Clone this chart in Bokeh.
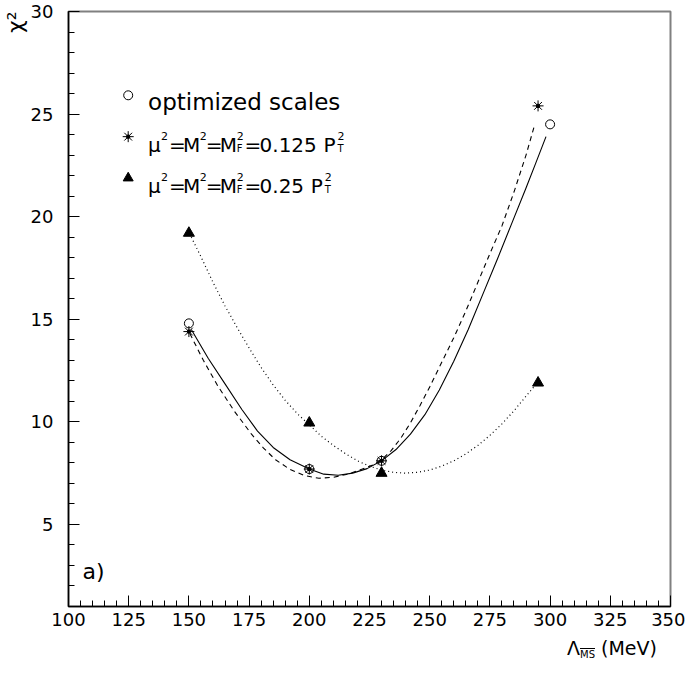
import math
from bokeh.plotting import figure
from bokeh.models import SingleIntervalTicker, Label, Title, Div
from bokeh.layouts import column
from bokeh.embed import file_html
from bokeh.resources import INLINE

# ---- data ----
lam_opt = [150, 200, 230, 300]
chi_opt = [14.8, 7.7, 8.1, 24.5]

lam_125 = [150, 200, 230, 295]
chi_125 = [14.4, 7.7, 8.1, 25.4]

lam_25 = [150, 200, 230, 295]
chi_25 = [19.2, 9.95, 7.5, 11.9]

# fitted curves
fit_opt_x = [151, 158, 165, 172, 178.5, 185, 192, 200, 206, 212, 218, 224, 230, 236, 242, 248,
             254, 260, 266, 272, 278, 284, 290, 294, 298.3]
fit_opt_y = [14.5, 13.1, 11.85, 10.6, 9.55, 8.75, 8.15, 7.7, 7.45, 7.4, 7.5, 7.72, 8.1, 8.65, 9.4, 10.35,
             11.55, 12.95, 14.5, 16.2, 17.9, 19.65, 21.4, 22.6, 23.9]

fit_125_x = [150.4, 156, 162, 169, 176, 181, 186, 192, 198, 204, 210, 216, 222, 226, 230, 234, 238,
             242, 246, 250, 255, 260, 265, 270, 275, 280, 285, 290, 293.4]
fit_125_y = [14.3, 13.0, 11.75, 10.5, 9.4, 8.72, 8.15, 7.68, 7.38, 7.25, 7.3, 7.45, 7.7, 7.88, 8.15, 8.6, 9.2,
             9.95, 10.8, 11.7, 12.9, 14.1, 15.4, 16.8, 18.2, 19.55, 21.2, 23.0, 24.4]

fit_25_x = [151, 155, 160, 165, 170, 175, 180, 185, 190, 195, 200, 205, 210, 215, 220, 225, 230, 235,
            240, 245, 250, 255, 260, 265, 270, 275, 280, 285, 290, 295]
fit_25_y = [19.0, 18.05, 16.8, 15.65, 14.6, 13.6, 12.65, 11.8, 11.05, 10.4, 9.85, 9.3, 8.85, 8.45, 8.1, 7.84,
            7.65, 7.54, 7.5, 7.54, 7.65, 7.84, 8.1, 8.44, 8.85, 9.34, 9.9, 10.54, 11.25, 11.95]

legend_values = ["0.125", "0.25"]

x_start, x_end = 100, 350
y_start, y_end = 1, 30

FONT = "DejaVu Sans"

p = figure(width=685, height=637, x_range=(x_start, x_end), y_range=(y_start, y_end),
           output_backend="svg", toolbar_location=None,
           min_border_left=65, min_border_right=15, min_border_top=11, min_border_bottom=31)

p.xgrid.visible = False
p.ygrid.visible = False
p.outline_line_color = "#808080"
p.outline_line_width = 2
p.background_fill_color = "white"
p.border_fill_color = "white"

p.xaxis.ticker = SingleIntervalTicker(interval=25, num_minor_ticks=5)
p.yaxis.ticker = SingleIntervalTicker(interval=5, num_minor_ticks=5)
for ax in (p.xaxis[0], p.yaxis[0]):
    ax.axis_line_color = "black"
    ax.axis_line_width = 1.5
    ax.major_tick_in = 11
    ax.major_tick_out = 0
    ax.minor_tick_in = 6
    ax.minor_tick_out = 0
    ax.major_tick_line_color = "black"
    ax.minor_tick_line_color = "black"
    ax.major_label_text_font = FONT
    ax.major_label_text_font_size = "18px"
    ax.major_label_text_color = "black"
p.xaxis.major_label_standoff = 6
p.yaxis.major_label_standoff = 15

# y-axis title at the top of the left side
p.add_layout(Title(text="\u03c7\u00b2", align="right", text_font=FONT, text_font_size="22px",
                   text_font_style="normal", text_color="black", standoff=0), "left")

# curves
p.line(fit_opt_x, fit_opt_y, line_color="black", line_width=1.1)
p.line(fit_125_x, fit_125_y, line_color="black", line_width=1.1, line_dash="5 4")
p.line(fit_25_x, fit_25_y, line_color="black", line_width=1.2, line_dash="1 3")

# markers
p.scatter(lam_opt, chi_opt, marker="circle", size=9, fill_color=None, line_color="black", line_width=1)
p.scatter(lam_125, chi_125, marker="asterisk", size=11, line_color="black", line_width=1)
p.scatter(lam_125, chi_125, marker="circle", size=3.5, fill_color="black", line_color="black")
p.scatter(lam_25, chi_25, marker="triangle", size=11, fill_color="black", line_color="black")

# ---- annotations: reference page pixels -> data coordinates ----
def dx(px):
    return x_start + (px - 73) / 2.42

def dy(py):
    return y_start + (614 - py) / 20.83

def put(text, px, py, size, align="left", baseline="alphabetic"):
    p.add_layout(Label(x=dx(px), y=dy(py), text=text, text_font=FONT,
                       text_font_size=f"{size}px", text_color="black",
                       text_align=align, text_baseline=baseline))

# legend markers
p.scatter([dx(133)], [dy(95)], marker="circle", size=9, fill_color=None, line_color="black")
p.scatter([dx(133)], [dy(137)], marker="asterisk", size=11, line_color="black")
p.scatter([dx(133)], [dy(137)], marker="circle", size=3.5, fill_color="black", line_color="black")
p.scatter([dx(133)], [dy(179)], marker="triangle", size=10, fill_color="black", line_color="black")

# legend texts
char_w = {"0": 0.636, "1": 0.636, "2": 0.636, "5": 0.636, ".": 0.318}
put("optimized scales", 153, 102, 23)
for base, num in zip((145, 187), legend_values):
    put("\u03bc", 153, base, 20)
    put("2", 166, base - 9, 11)
    put("=", 174, base, 20)
    put("M", 188, base, 20)
    put("2", 205, base - 9, 11)
    put("=", 211, base, 20)
    put("M", 225, base, 20)
    put("2", 242, base - 9, 11)
    put("F", 242, base + 4, 10)
    put("=", 250, base, 20)
    put(num, 265, base, 20)
    pend = 265 + sum(char_w[c] for c in num) * 20 + 7
    put("P", pend, base, 20)
    put("T", pend + 14, base + 4, 10)
    put("2", pend + 14, base - 9, 11)

# panel tag
put("a)", 87, 578, 22, baseline="middle")

# x-axis title (HTML text below the plot, right aligned)
xlabel = Div(
    text=('<div style="font-family:\'DejaVu Sans\';font-size:19px;line-height:22px;color:black;'
          'white-space:nowrap;">\u039b<sub style="font-size:10px;text-decoration:overline;'
          'vertical-align:-3px;">MS</sub> (MeV)</div>'),
    width=110, height=26, margin=(0, 0, 0, 567),
)

layout = column(p, xlabel, spacing=0)
open("out.html", "w").write(file_html(layout, INLINE))
